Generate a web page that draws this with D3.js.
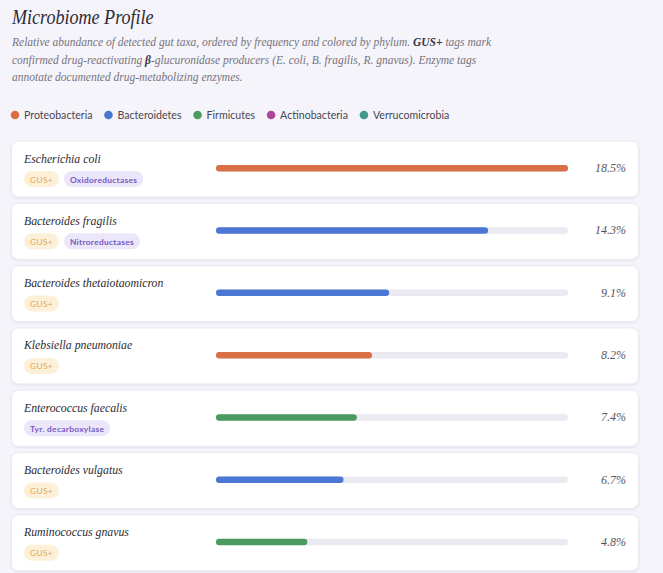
<!DOCTYPE html>
<html><head><meta charset="utf-8">
<script src="https://cdn.jsdelivr.net/npm/d3@7"></script>
<style>
html,body{margin:0;padding:0;background:#f5f4fa;overflow:hidden;}
</style></head>
<body>
<svg id="c" width="663" height="573"></svg>
<script>
const taxa = ["Escherichia coli","Bacteroides fragilis","Bacteroides thetaiotaomicron","Klebsiella pneumoniae","Enterococcus faecalis","Bacteroides vulgatus","Ruminococcus gnavus"];
const abundance = [18.5,14.3,9.1,8.2,7.4,6.7,4.8];
const phylumOf = ["Proteobacteria","Bacteroidetes","Bacteroidetes","Proteobacteria","Firmicutes","Bacteroidetes","Firmicutes"];
const gusPlus = [true,true,true,true,false,true,true];
const enzymeTags = ["Oxidoreductases","Nitroreductases","","","Tyr. decarboxylase","",""];
const phyla = ["Proteobacteria","Bacteroidetes","Firmicutes","Actinobacteria","Verrucomicrobia"];
const phylumColors = ["#d86f45","#4a77d3","#4b9a5f","#b0449b","#3f9a8c"];

const svg = d3.select("#c");
const serif = "Liberation Serif";
const sans = "Lato";

// condense a serif text horizontally to mimic a narrower Garamond-style face
function condense(sel, k) {
  const n = sel.node();
  const w = n.getComputedTextLength();
  sel.attr("textLength", w * k).attr("lengthAdjust", "spacingAndGlyphs");
  return sel;
}

const title = svg.append("text").attr("x",12).attr("y",24).attr("font-family",serif).attr("font-style","italic")
  .attr("font-size",21).attr("fill","#2e2b33").text("Microbiome Profile");
condense(title, 0.86);

const sub = svg.append("g").attr("font-family",serif).attr("font-style","italic").attr("font-size",11.5).attr("fill","#77737d");
const l1 = sub.append("text").attr("x",12).attr("y",46);
l1.append("tspan").text("Relative abundance of detected gut taxa, ordered by frequency and colored by phylum. ");
l1.append("tspan").attr("font-weight","bold").attr("fill","#3a3640").text("GUS+");
l1.append("tspan").text(" tags mark");
const l2 = sub.append("text").attr("x",12).attr("y",63.5);
l2.append("tspan").text("confirmed drug-reactivating ");
l2.append("tspan").attr("font-weight","bold").attr("fill","#3a3640").text("β");
l2.append("tspan").text("-glucuronidase producers (E. coli, B. fragilis, R. gnavus). Enzyme tags");
sub.append("text").attr("x",12).attr("y",81).text("annotate documented drug-metabolizing enzymes.");

const color = d3.scaleOrdinal().domain(phyla).range(phylumColors);

// legend
const leg = svg.append("g").attr("transform","translate(15,115)");
let lx = 0;
phyla.forEach(p=>{
  const g = leg.append("g").attr("transform",`translate(${lx},0)`);
  g.append("circle").attr("r",4.3).attr("fill",color(p));
  const t = g.append("text").attr("x",9).attr("y",4).attr("font-family",sans).attr("font-size",10.6)
    .attr("fill","#4a4650").text(p);
  lx += 9 + t.node().getComputedTextLength() + 16;
});

// rows
const step = 62.3;
const rowY = d3.scaleBand().domain(taxa).range([141, 141 + step*taxa.length]).padding(0);
const x = d3.scaleLinear().domain([0, d3.max(abundance)]).range([216, 568]);

const defs = svg.append("defs");
const f = defs.append("filter").attr("id","sh").attr("x","-5%").attr("y","-20%").attr("width","110%").attr("height","150%");
f.append("feDropShadow").attr("dx",0).attr("dy",1).attr("stdDeviation",1.2).attr("flood-color","#8a84a8").attr("flood-opacity",0.18);

taxa.forEach((name,i)=>{
  const y0 = rowY(name), h = 56;
  const g = svg.append("g").attr("transform",`translate(0,${y0})`);
  g.append("rect").attr("x",11.5).attr("y",0).attr("width",627).attr("height",h).attr("rx",7)
    .attr("fill","#ffffff").attr("stroke","#ece9f3").attr("stroke-width",1).attr("filter","url(#sh)");
  const nm = g.append("text").attr("x",24).attr("y",21.5).attr("font-family",serif).attr("font-style","italic")
    .attr("font-size",12.8).attr("fill","#2e2b33").text(name);
  condense(nm, 0.92);
  let tx = 24;
  const tags = [];
  if (gusPlus[i]) tags.push({t:"GUS+", bg:"#fdf0d9", fg:"#e0a84f"});
  if (enzymeTags[i]) tags.push({t:enzymeTags[i], bg:"#ece6fa", fg:"#7459c2"});
  tags.forEach(tg=>{
    const tt = g.append("text").attr("y",41.5).attr("font-family",sans).attr("font-size",8.4)
      .attr("font-weight",tg.t==="GUS+"?400:700).attr("fill",tg.fg).attr("letter-spacing",0.3).text(tg.t);
    const w = tt.node().getComputedTextLength() + 12;
    g.insert("rect", () => tt.node()).attr("x",tx).attr("y",30).attr("width",w).attr("height",16).attr("rx",8).attr("fill",tg.bg);
    tt.attr("x",tx+6);
    tx += w + 5;
  });
  const by = 24;
  g.append("rect").attr("x",x(0)).attr("y",by).attr("width",x(d3.max(abundance))-x(0)).attr("height",6.5).attr("rx",3.25).attr("fill","#ebe9f2");
  g.append("rect").attr("x",x(0)).attr("y",by).attr("width",x(abundance[i])-x(0)).attr("height",6.5).attr("rx",3.25).attr("fill",color(phylumOf[i]));
  g.append("text").attr("x",626).attr("y",31).attr("text-anchor","end").attr("font-family",serif).attr("font-style","italic")
    .attr("font-size",12).attr("fill","#5a5660").text(abundance[i].toFixed(1)+"%");
});
</script>
</body></html>
